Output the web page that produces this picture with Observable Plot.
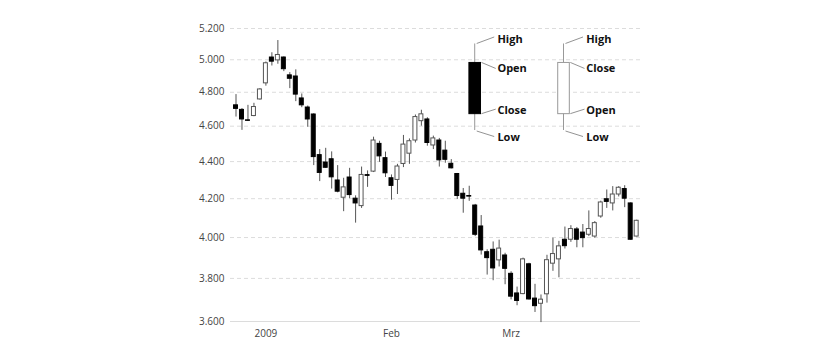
<!DOCTYPE html>
<html>
<head>
<meta charset="utf-8">
<script src="https://cdn.jsdelivr.net/npm/d3@7"></script>
<script src="https://cdn.jsdelivr.net/npm/@observablehq/plot@0.6"></script>
<style>
html, body { margin: 0; padding: 0; background: #fff; }
#chart { width: 839px; height: 360px; }
</style>
</head>
<body>
<div id="chart"></div>
<script>
// Trading days (Dec 2008 – Mar 2009)
const dates = [
  "2008-12-19","2008-12-22","2008-12-23","2008-12-29","2008-12-30",
  "2009-01-02","2009-01-05","2009-01-06","2009-01-07","2009-01-08","2009-01-09",
  "2009-01-12","2009-01-13","2009-01-14","2009-01-15","2009-01-16",
  "2009-01-19","2009-01-20","2009-01-21","2009-01-22","2009-01-23",
  "2009-01-26","2009-01-27","2009-01-28","2009-01-29","2009-01-30",
  "2009-02-02","2009-02-03","2009-02-04","2009-02-05","2009-02-06",
  "2009-02-09","2009-02-10","2009-02-11","2009-02-12","2009-02-13",
  "2009-02-16","2009-02-17","2009-02-18","2009-02-19","2009-02-20",
  "2009-02-23","2009-02-24","2009-02-25","2009-02-26","2009-02-27",
  "2009-03-02","2009-03-03","2009-03-04","2009-03-05","2009-03-06",
  "2009-03-09","2009-03-10","2009-03-11","2009-03-12","2009-03-13",
  "2009-03-16","2009-03-17","2009-03-18","2009-03-19","2009-03-20",
  "2009-03-23","2009-03-24","2009-03-25","2009-03-26","2009-03-27",
  "2009-03-30","2009-03-31"
];
const open = [
  4722,4695,4634,4659,4757,
  4854,5014,4996,5014,4903,4896,4763,4709,4668,4436,4395,4413,4297,4205,4313,4200,4161,4326,4345,4499,4419,
  4309,4300,4387,4444,4518,4629,4639,4490,4518,4461,4388,4332,4226,4214,4164,4056,3927,3939,3887,3911,
  3822,3729,3726,3868,3705,3681,3725,3871,3892,3989,3989,4041,4025,4014,4005,4107,4197,4175,4222,4251,4175,4005
];
const close = [
  4701,4639,4631,4712,4817,
  4978,4988,5030,4941,4882,4786,4722,4639,4425,4338,4366,4314,4237,4260,4219,4175,4327,4322,4518,4429,4336,
  4268,4373,4495,4514,4653,4669,4504,4530,4407,4410,4363,4214,4200,4211,4014,3936,3898,3848,3945,3846,
  3714,3694,3892,3701,3670,3700,3888,3918,3956,3957,4043,3989,3997,4043,4073,4180,4183,4222,4258,4200,3989,4085
];
const high = [
  4786,4703,4722,4734,4822,
  4986,5044,5122,5018,4920,4937,4790,4718,4672,4467,4474,4454,4378,4309,4363,4215,4370,4349,4537,4514,4453,
  4327,4385,4547,4527,4665,4693,4649,4543,4530,4514,4411,4335,4254,4266,4170,4112,3939,3978,3987,3922,
  3832,3759,3898,3873,3772,3722,3912,3997,3981,4053,4060,4051,4066,4136,4081,4187,4246,4264,4264,4269,4178,4088
];
const low = [
  4653,4576,4627,4655,4753,
  4837,4961,4972,4926,4822,4744,4708,4594,4378,4291,4363,4251,4231,4132,4200,4073,4149,4260,4340,4396,4313,
  4192,4222,4367,4385,4504,4600,4486,4467,4370,4391,4360,4196,4124,4186,4005,3913,3816,3789,3855,3770,
  3699,3672,3723,3698,3641,3595,3684,3834,3803,3943,3976,3949,3949,4005,3997,4098,4149,4136,4209,4153,3987,4003
];

// Axis ticks
const yTicks = [3600,3800,4000,4200,4400,4600,4800,5000,5200];
const xTickDates = ["2009-01-02","2009-02-02","2009-03-02"];
const xTickLabels = ["2009","Feb","Mrz"];

// Legend (schematic candles)
const legendKinds = ["down","up"];
const legendHigh  = [5100,5100];
const legendTop   = [4980,4980];
const legendBottom= [4670,4670];
const legendLow   = [4575,4575];
const legendLabels = [["High","Open","Close","Low"],["High","Close","Open","Low"]];

const data = dates.map((d, i) => ({
  i, date: d, open: open[i], high: high[i], low: low[i], close: close[i],
  up: close[i] > open[i]
}));
const xTickIdx = xTickDates.map(d => dates.indexOf(d));
const deFormat = d3.formatLocale({decimal: ",", thousands: ".", grouping: [3], currency: ["", " €"]}).format(",.0f");

// Layout of legend: anchors in index space of the x scale
const legendAnchors = [40, 54.85];

function legendMark(index, scales) {
  const g = d3.create("svg:g");
  legendKinds.forEach((kind, k) => {
    const cx = scales.x(legendAnchors[k]);
    const yH = scales.y(legendHigh[k]);
    const yT = scales.y(legendTop[k]);
    const yB = scales.y(legendBottom[k]);
    const yL = scales.y(legendLow[k]);
    const hw = 5.8;
    g.append("line").attr("x1", cx).attr("x2", cx).attr("y1", yH).attr("y2", yL)
      .attr("stroke", "#999").attr("stroke-width", 1);
    g.append("rect").attr("x", cx - hw).attr("width", hw * 2)
      .attr("y", yT).attr("height", yB - yT)
      .attr("fill", kind === "down" ? "#000" : "#fff")
      .attr("stroke", kind === "down" ? "#000" : "#999").attr("stroke-width", 1);
    const leaders = [
      [cx + 2, yH, cx + 19.5, yH - 6.5],
      [cx + hw + 1, yT, cx + 21, yT + 6],
      [cx + hw + 1, yB, cx + 21, yB - 4.5],
      [cx + 2, yL + 1, cx + 19.5, yL + 6.5]
    ];
    leaders.forEach(([x1, y1, x2, y2]) => {
      g.append("line").attr("x1", x1).attr("y1", y1).attr("x2", x2).attr("y2", y2)
        .attr("stroke", "#777").attr("stroke-width", 0.8);
    });
    const ty = [yH - 4.7, yT + 5.6, yB - 3.3, yL + 6.7];
    legendLabels[k].forEach((lab, j) => {
      g.append("text").attr("x", cx + 22.7).attr("y", ty[j]).attr("dy", "0.36em")
        .attr("text-anchor", "start")
        .attr("font-family", "'Open Sans', sans-serif").attr("font-weight", "bold")
        .attr("font-size", 11).attr("fill", "#111").text(lab);
    });
  });
  return g.node();
}

const chart = Plot.plot({
  width: 839,
  height: 360,
  marginLeft: 230,
  marginRight: 199,
  marginTop: 28,
  marginBottom: 39,
  style: {fontFamily: "'Open Sans', sans-serif", fontSize: "10px", color: "#444", background: "#fff"},
  x: {domain: [-0.92, 67.64]},
  y: {type: "log", domain: [3600, 5200]},
  marks: [
    Plot.gridY(yTicks.filter(t => t !== 3600), {stroke: "#dcdcdc", strokeOpacity: 1, strokeDasharray: "4,3"}),
    Plot.ruleY([3600], {stroke: "#dcdcdc", strokeOpacity: 1}),
    Plot.axisY(yTicks, {tickSize: 0, tickPadding: 6, tickFormat: deFormat, label: null}),
    Plot.axisX(xTickIdx, {tickSize: 0, tickPadding: 8, tickFormat: i => xTickLabels[xTickIdx.indexOf(i)], label: null}),
    Plot.ruleX(data, {x: "i", y1: "low", y2: "high", stroke: "#555", strokeWidth: 1}),
    Plot.rect(data, {
      x1: d => d.i - 0.5, x2: d => d.i + 0.5, y1: "open", y2: "close",
      insetLeft: 1, insetRight: 1,
      fill: d => d.up ? "#fff" : "#000",
      stroke: d => d.up ? "#555" : "#000", strokeWidth: 1
    }),
    legendMark
  ]
});
document.getElementById("chart").appendChild(chart);
</script>
</body>
</html>
